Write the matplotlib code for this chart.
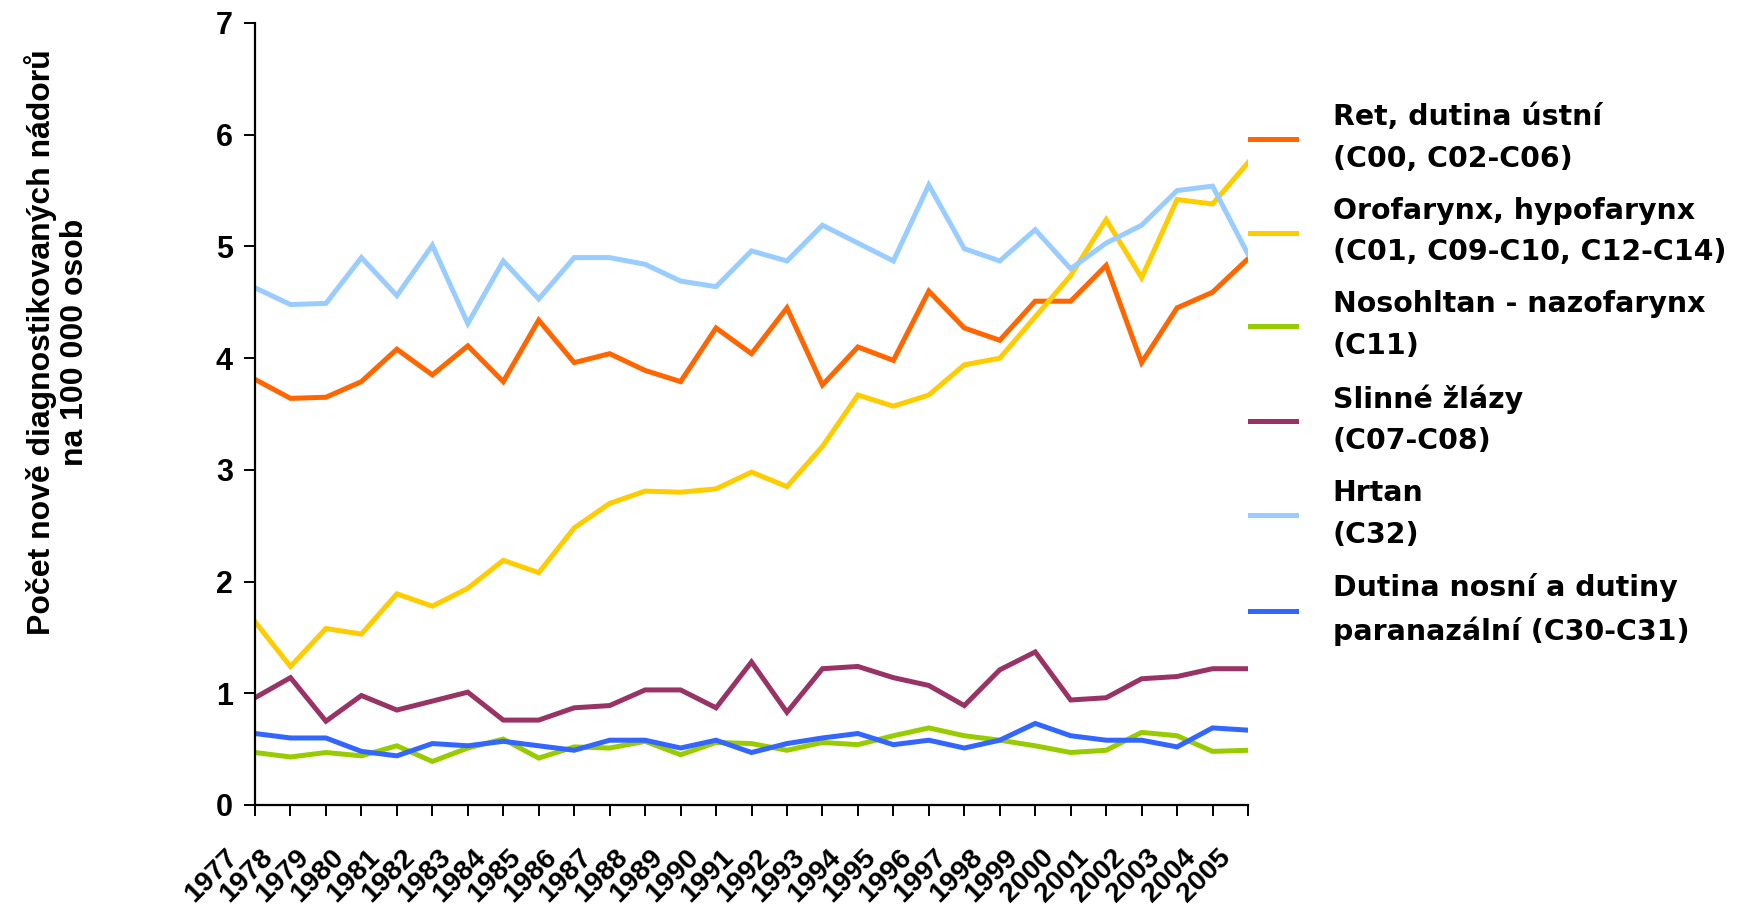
import matplotlib
matplotlib.use('Agg')
import matplotlib.pyplot as plt
import matplotlib.transforms as mtransforms
import numpy as np

years = [str(y) for y in range(1977, 2006)]

ret = [3.81, 3.64, 3.65, 3.79, 4.08, 3.85, 4.11, 3.79, 4.34, 3.96,
       4.04, 3.89, 3.79, 4.27, 4.04, 4.45, 3.76, 4.10, 3.98, 4.60,
       4.27, 4.16, 4.51, 4.51, 4.83, 3.96, 4.45, 4.59, 4.89]
orofarynx = [1.64, 1.24, 1.58, 1.53, 1.89, 1.78, 1.94, 2.19, 2.08, 2.48,
             2.70, 2.81, 2.80, 2.83, 2.98, 2.85, 3.21, 3.67, 3.57, 3.67,
             3.94, 4.00, 4.37, 4.74, 5.24, 4.72, 5.42, 5.38, 5.75]
nosohltan = [0.47, 0.43, 0.47, 0.44, 0.53, 0.39, 0.51, 0.59, 0.42, 0.52,
             0.51, 0.57, 0.45, 0.56, 0.55, 0.49, 0.56, 0.54, 0.62, 0.69,
             0.62, 0.58, 0.53, 0.47, 0.49, 0.65, 0.62, 0.48, 0.49]
slinne = [0.96, 1.14, 0.75, 0.98, 0.85, 0.93, 1.01, 0.76, 0.76, 0.87,
          0.89, 1.03, 1.03, 0.87, 1.28, 0.83, 1.22, 1.24, 1.14, 1.07,
          0.89, 1.21, 1.37, 0.94, 0.96, 1.13, 1.15, 1.22, 1.22]
hrtan = [4.63, 4.48, 4.49, 4.90, 4.56, 5.01, 4.31, 4.87, 4.53, 4.90,
         4.90, 4.84, 4.69, 4.64, 4.96, 4.87, 5.19, 5.03, 4.87, 5.55,
         4.98, 4.87, 5.15, 4.80, 5.03, 5.19, 5.50, 5.54, 4.93]
dutina = [0.64, 0.60, 0.60, 0.48, 0.44, 0.55, 0.53, 0.57, 0.53, 0.49,
          0.58, 0.58, 0.51, 0.58, 0.47, 0.55, 0.60, 0.64, 0.54, 0.58,
          0.51, 0.58, 0.73, 0.62, 0.58, 0.58, 0.52, 0.69, 0.67]

labels = ['Ret, dutina ústní\n(C00, C02-C06)',
          'Orofarynx, hypofarynx\n(C01, C09-C10, C12-C14)',
          'Nosohltan - nazofarynx\n(C11)',
          'Slinné žlázy\n(C07-C08)',
          'Hrtan\n(C32)',
          'Dutina nosní a dutiny\nparanazální (C30-C31)']
colors = ['#FF6600', '#FFCC00', '#99CC00', '#993366', '#99CCFF', '#3366FF']
series = [ret, orofarynx, nosohltan, slinne, hrtan, dutina]

W, H = 1739, 910
fig = plt.figure(figsize=(W / 100, H / 100), dpi=100)
ax = fig.add_axes([255 / W, 1 - 805 / H, (1248 - 255) / W, (805 - 23) / H])

x = np.arange(len(years))
handles = []
for vals, col, lab in zip(series, colors, labels):
    h, = ax.plot(x, vals, color=col, lw=3.6, solid_joinstyle='miter', label=lab)
    handles.append(h)

ax.set_xlim(0, len(years) - 1)
ax.set_ylim(0, 7)
ax.spines['top'].set_visible(False)
ax.spines['right'].set_visible(False)
for s in ['left', 'bottom']:
    ax.spines[s].set_linewidth(1.6)

tick_font = dict(family=['Liberation Sans', 'DejaVu Sans'], weight='bold', size=22)
ax.set_yticks(range(0, 8), [str(v) for v in range(0, 8)], fontdict=tick_font)
ax.tick_params(axis='y', direction='out', length=8, width=1.4, pad=8)
ax.set_xticks(x, years, fontdict=dict(tick_font, size=20.5),
              rotation=45, ha='right', va='top')
ax.tick_params(axis='x', direction='out', length=8, width=1.4, pad=20)
offset = mtransforms.ScaledTranslation(-0.12, 0, fig.dpi_scale_trans)
for lbl in ax.get_xticklabels():
    lbl.set_transform(lbl.get_transform() + offset)

fig.text(57 / W, 1 - 342 / H,
         'Počet nově diagnostikovaných nádorů\nna 100 000 osob',
         rotation=90, ha='center', va='center', multialignment='center',
         family=['Liberation Sans', 'DejaVu Sans'], weight='bold', size=23,
         linespacing=1.1)

fig.legend(handles=handles, loc='upper left',
           bbox_to_anchor=(1250 / W, 1 - 103 / H),
           frameon=False, handlelength=1.62, handletextpad=1.3,
           labelspacing=0.85, borderaxespad=0, borderpad=0,
           prop=dict(family='DejaVu Sans', weight='bold', size=20.4))
for t in fig.legends[0].get_texts():
    t.set_linespacing(1.62)

fig.savefig('out.png', dpi=100)
